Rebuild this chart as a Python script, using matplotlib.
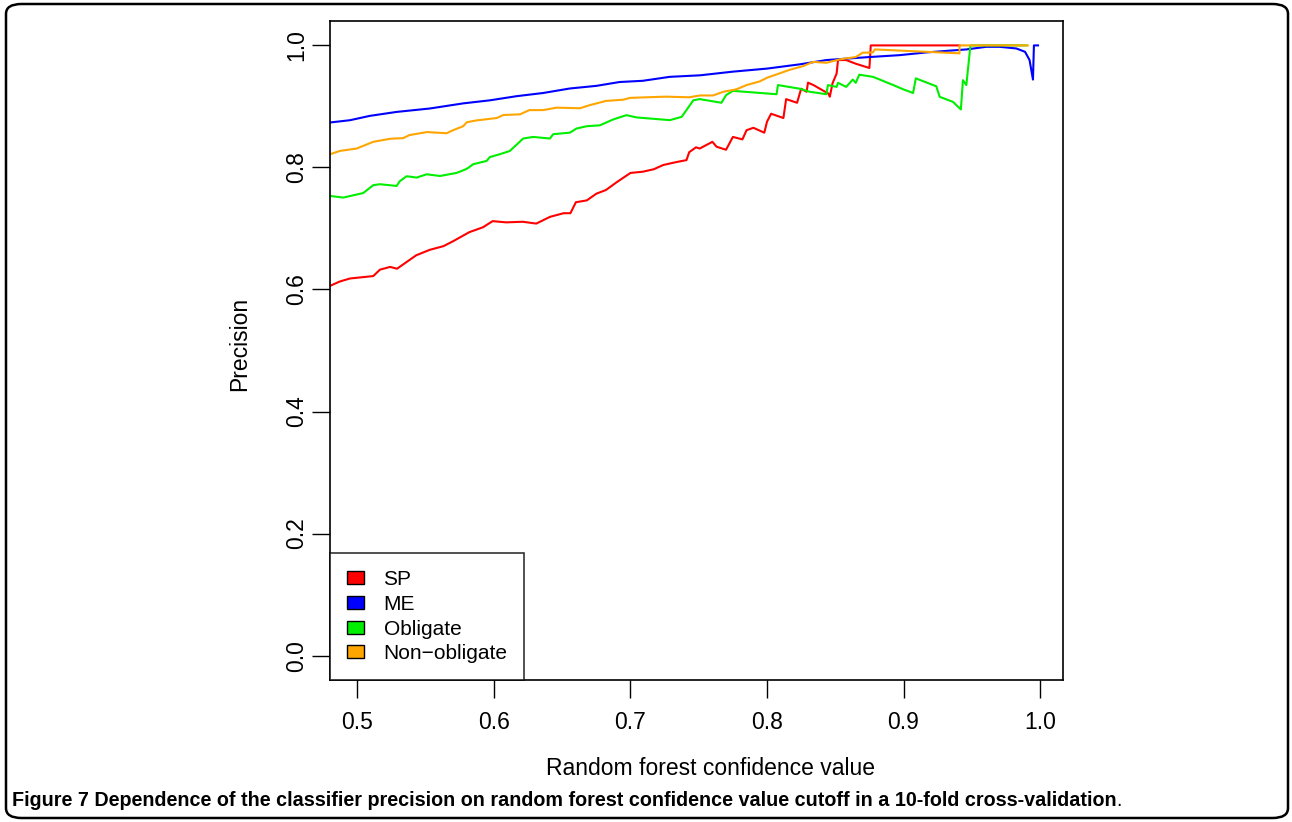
import matplotlib.pyplot as plt
from matplotlib.patches import Patch, FancyBboxPatch

plt.rcParams['font.family'] = ['Liberation Sans', 'DejaVu Sans']

# SP
sp_x = [0.480, 0.487, 0.4945, 0.5116, 0.5165, 0.524, 0.529, 0.543, 0.553, 0.563, 0.570, 0.582,
        0.592, 0.599, 0.609, 0.621, 0.631, 0.641, 0.651, 0.656, 0.660, 0.668, 0.675, 0.682,
        0.690, 0.700, 0.709, 0.717, 0.724, 0.734, 0.741, 0.743, 0.748, 0.7507, 0.760, 0.763,
        0.770, 0.775, 0.782, 0.785, 0.790, 0.798, 0.800, 0.803, 0.812, 0.814, 0.822, 0.825,
        0.829, 0.830, 0.834, 0.845, 0.846, 0.848, 0.851, 0.852, 0.858, 0.865, 0.875, 0.876,
        0.941]
sp_y = [0.606, 0.613, 0.618, 0.622, 0.6325, 0.637, 0.634, 0.656, 0.665, 0.671, 0.679, 0.694,
        0.702, 0.712, 0.710, 0.711, 0.708, 0.719, 0.725, 0.725, 0.743, 0.746, 0.757, 0.763,
        0.776, 0.791, 0.793, 0.797, 0.804, 0.809, 0.812, 0.825, 0.833, 0.831, 0.842, 0.834,
        0.829, 0.850, 0.846, 0.861, 0.865, 0.857, 0.875, 0.888, 0.881, 0.912, 0.906, 0.929,
        0.924, 0.939, 0.935, 0.921, 0.916, 0.938, 0.954, 0.976, 0.976, 0.970, 0.963, 1.0,
        1.0]

# ME
me_x = [0.480, 0.4945, 0.509, 0.5287, 0.553, 0.5775, 0.597, 0.6166, 0.636, 0.6556, 0.675,
        0.692, 0.709, 0.7288, 0.751, 0.775, 0.800, 0.824, 0.8435, 0.8606, 0.8776, 0.897,
        0.9167, 0.9313, 0.946, 0.9606, 0.9704, 0.9826, 0.989, 0.9923, 0.9948, 0.9955, 0.9985]
me_y = [0.8737, 0.8774, 0.8845, 0.891, 0.8966, 0.905, 0.910, 0.9168, 0.922, 0.9294, 0.9337,
        0.940, 0.942, 0.9485, 0.951, 0.957, 0.962, 0.969, 0.976, 0.9787, 0.9813, 0.984,
        0.9885, 0.991, 0.9934, 0.9977, 0.9977, 0.995, 0.9895, 0.976, 0.944, 1.0, 1.0]

# Obligate
ob_x = [0.480, 0.4896, 0.497, 0.5042, 0.5116, 0.5165, 0.5287, 0.531, 0.536, 0.5434, 0.5507,
        0.5604, 0.5726, 0.580, 0.5848, 0.5946, 0.597, 0.6043, 0.6116, 0.6214, 0.6287, 0.641,
        0.6434, 0.6556, 0.6605, 0.668, 0.6775, 0.6873, 0.697, 0.7044, 0.7288, 0.7375, 0.746,
        0.7507, 0.7666, 0.770, 0.775, 0.807, 0.808, 0.824, 0.8313, 0.8435, 0.8446, 0.851,
        0.852, 0.858, 0.8628, 0.865, 0.8676, 0.8776, 0.8925, 0.8998, 0.907, 0.909, 0.924,
        0.9265, 0.9362, 0.942, 0.9435, 0.946, 0.949, 0.990]
ob_y = [0.7533, 0.7506, 0.7544, 0.758, 0.771, 0.7725, 0.7697, 0.7774, 0.7856, 0.7834, 0.7888,
        0.786, 0.791, 0.7976, 0.8053, 0.8107, 0.817, 0.8217, 0.827, 0.8474, 0.850, 0.8474,
        0.8545, 0.857, 0.8638, 0.8676, 0.869, 0.8786, 0.8857, 0.882, 0.8775, 0.8829, 0.910,
        0.912, 0.906, 0.9185, 0.9255, 0.920, 0.935, 0.929, 0.924, 0.920, 0.935, 0.932,
        0.9387, 0.932, 0.944, 0.9387, 0.952, 0.9485, 0.935, 0.928, 0.922, 0.946, 0.933,
        0.9157, 0.9075, 0.895, 0.943, 0.935, 1.0, 1.0]

# Non-obligate
no_x = [0.480, 0.487, 0.4994, 0.5116, 0.524, 0.5335, 0.538, 0.551, 0.5653, 0.570, 0.5775,
        0.580, 0.587, 0.602, 0.607, 0.619, 0.626, 0.636, 0.646, 0.663, 0.670, 0.682, 0.6946,
        0.6996, 0.712, 0.726, 0.743, 0.751, 0.7605, 0.768, 0.7776, 0.785, 0.7947, 0.800,
        0.809, 0.8166, 0.8264, 0.8337, 0.8435, 0.853, 0.865, 0.870, 0.8776, 0.879, 0.941,
        0.941, 0.991]
no_y = [0.8217, 0.827, 0.831, 0.842, 0.847, 0.848, 0.853, 0.858, 0.856, 0.861, 0.8676,
        0.874, 0.877, 0.881, 0.886, 0.887, 0.894, 0.894, 0.898, 0.897, 0.902, 0.909, 0.911,
        0.914, 0.915, 0.916, 0.915, 0.918, 0.918, 0.924, 0.928, 0.935, 0.941, 0.947,
        0.954, 0.960, 0.966, 0.973, 0.9715, 0.977, 0.981, 0.988, 0.9885, 0.9934, 0.987,
        1.0, 1.0]

labels = ['SP', 'ME', 'Obligate', 'Non\u2212obligate']
colors = ['#ff0000', '#0000ff', '#00ee00', '#ffa500']

fig = plt.figure(figsize=(12.92, 8.22), dpi=100)
ax = fig.add_axes([330 / 1292, 1 - 680 / 822, 733 / 1292, 659 / 822])

ax.plot(sp_x, sp_y, color=colors[0], lw=1.5)
ax.plot(me_x, me_y, color=colors[1], lw=1.5)
ax.plot(ob_x, ob_y, color=colors[2], lw=1.5)
ax.plot(no_x, no_y, color=colors[3], lw=1.5)

ax.set_xlim(0.4799, 1.0168)
ax.set_ylim(-0.04, 1.04)
ax.set_xticks([0.5, 0.6, 0.7, 0.8, 0.9, 1.0])
ax.set_yticks([0.0, 0.2, 0.4, 0.6, 0.8, 1.0])
ax.set_xticklabels(['0.5', '0.6', '0.7', '0.8', '0.9', '1.0'])
ax.set_yticklabels(['0.0', '0.2', '0.4', '0.6', '0.8', '1.0'], rotation=90, va='center')
ax.tick_params(axis='x', length=13, width=1, labelsize=16.5, pad=9)
ax.tick_params(axis='y', length=13, width=1, labelsize=16.5, pad=3)
for s in ax.spines.values():
    s.set_linewidth(1.2)

ax.set_xlabel('Random forest confidence value', fontsize=16.5, labelpad=17)
ax.set_ylabel('Precision', fontsize=16.5, labelpad=24)
ax.xaxis.label.set_x((711 - 330) / 733)
ax.yaxis.label.set_y((680 - 344) / 659)

handles = [Patch(facecolor=c, edgecolor='black', lw=1) for c in colors]
leg = ax.legend(handles, labels, loc='lower left', fontsize=15, frameon=True, fancybox=False,
                borderaxespad=0, handlelength=0.82, handleheight=0.58, handletextpad=0.95,
                labelspacing=0.28, borderpad=0.8)
leg.get_frame().set_edgecolor('black')
leg.get_frame().set_linewidth(1.2)

fig.patches.append(FancyBboxPatch((6 / 1292, 4 / 822), 1282 / 1292, 814 / 822,
                                  boxstyle='round,pad=0,rounding_size=0.012',
                                  transform=fig.transFigure, fill=False, lw=1.8,
                                  edgecolor='black'))

cap = fig.text(12 / 1292, 1 - 800 / 822,
               'Figure 7 Dependence of the classifier precision on random forest confidence value cutoff in a 10-fold cross-validation',
               fontsize=14.2, fontweight='bold', va='center', ha='left',
               family=['Liberation Sans Narrow', 'Liberation Sans', 'DejaVu Sans'])
ax.annotate('.', xy=(1, 0), xycoords=cap, va='bottom', ha='left', fontsize=14.2,
            annotation_clip=False)

fig.savefig('out.png', dpi=100)
